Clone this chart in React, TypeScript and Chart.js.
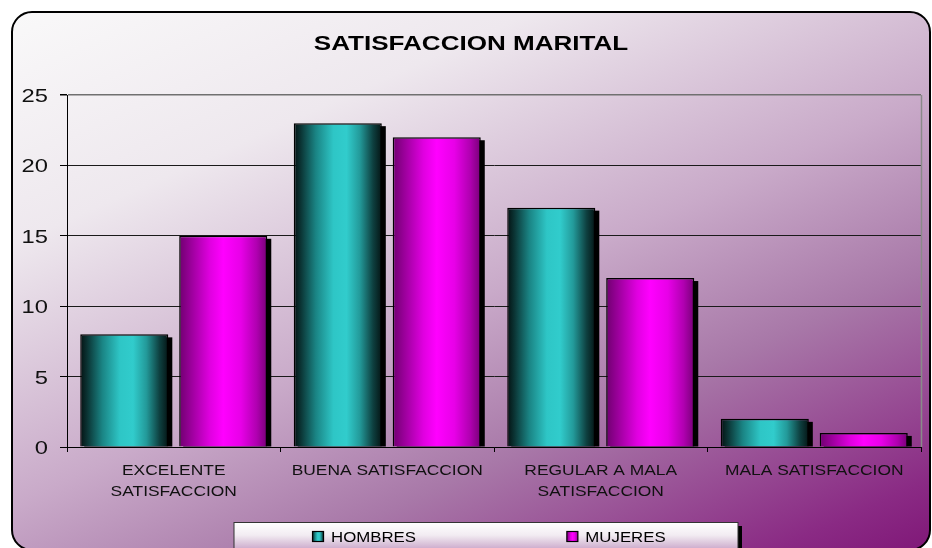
import React, { useEffect, useRef } from "react";
import { Chart, registerables } from "chart.js";

Chart.register(...registerables);

const TITLE = "SATISFACCION MARITAL";
const CATEGORIES: string[][] = [
  ["EXCELENTE", "SATISFACCION"],
  ["BUENA SATISFACCION"],
  ["REGULAR A MALA", "SATISFACCION"],
  ["MALA SATISFACCION"],
];
const SERIES_NAMES = ["HOMBRES", "MUJERES"];
const HOMBRES = [8, 23, 17, 2];
const MUJERES = [15, 22, 12, 1];
const Y_MIN = 0;
const Y_MAX = 25;
const Y_STEP = 5;

const FONT = '"Liberation Sans", Arial, sans-serif';

type Stops = [number, string][];
const CYAN_STOPS: Stops = [
  [0, "#041212"],
  [0.08, "#0b3434"],
  [0.25, "#1a8484"],
  [0.45, "#2ec6c6"],
  [0.6, "#31cccc"],
  [0.75, "#239a9a"],
  [0.9, "#0e4040"],
  [1, "#051515"],
];
const MAGENTA_STOPS: Stops = [
  [0, "#700070"],
  [0.15, "#a000a0"],
  [0.35, "#e000e0"],
  [0.5, "#ff00ff"],
  [0.7, "#e800e8"],
  [0.88, "#b000b0"],
  [1, "#780078"],
];
const SERIES_STOPS = [CYAN_STOPS, MAGENTA_STOPS];
const SERIES_BASE = ["#2ec6c6", "#ff00ff"];

const BG_STOPS: Stops = [
  [0, "#fafafa"],
  [0.26, "#eee8ee"],
  [0.53, "#c9aac9"],
  [0.71, "#a878a8"],
  [0.93, "#8a2a84"],
  [1, "#801878"],
];

function addStops(g: CanvasGradient, stops: Stops) {
  stops.forEach(([o, c]) => g.addColorStop(o, c));
}

function drawScaled(
  ctx: CanvasRenderingContext2D,
  text: string,
  x: number,
  y: number,
  font: string,
  sx: number,
  align: CanvasTextAlign,
  color = "#111"
) {
  ctx.save();
  ctx.translate(x, y);
  ctx.scale(sx, 1);
  ctx.font = font;
  ctx.textAlign = align;
  ctx.textBaseline = "alphabetic";
  ctx.fillStyle = color;
  ctx.fillText(text, 0, 0);
  ctx.restore();
}

function roundRectPath(ctx: CanvasRenderingContext2D, x: number, y: number, w: number, h: number, r: number) {
  ctx.beginPath();
  ctx.moveTo(x + r, y);
  ctx.lineTo(x + w - r, y);
  ctx.arcTo(x + w, y, x + w, y + r, r);
  ctx.lineTo(x + w, y + h - r);
  ctx.arcTo(x + w, y + h, x + w - r, y + h, r);
  ctx.lineTo(x + r, y + h);
  ctx.arcTo(x, y + h, x, y + h - r, r);
  ctx.lineTo(x, y + r);
  ctx.arcTo(x, y, x + r, y, r);
  ctx.closePath();
}

const decorPlugin = {
  id: "decor",
  beforeDraw(chart: any) {
    const { ctx, width, height } = chart;
    ctx.save();
    ctx.fillStyle = "#ffffff";
    ctx.fillRect(0, 0, width, height);
    const g = ctx.createLinearGradient(0, 0, 358, 803);
    addStops(g, BG_STOPS);
    roundRectPath(ctx, 12, 12, 918, 538, 20);
    ctx.fillStyle = g;
    ctx.fill();
    ctx.lineWidth = 2;
    ctx.strokeStyle = "#000";
    ctx.stroke();
    drawScaled(ctx, TITLE, 471, 50, `bold 21px ${FONT}`, 1.24, "center", "#000");
    ctx.restore();
  },
  beforeDatasetsDraw(chart: any) {
    const { ctx, chartArea } = chart;
    ctx.save();
    // right border of plot
    ctx.strokeStyle = "#8a8a8a";
    ctx.lineWidth = 1.5;
    ctx.beginPath();
    ctx.moveTo(chartArea.right + 0.5, chartArea.top);
    ctx.lineTo(chartArea.right + 0.5, chartArea.bottom);
    ctx.stroke();
    chart.data.datasets.forEach((_ds: any, di: number) => {
      const meta = chart.getDatasetMeta(di);
      meta.data.forEach((el: any) => {
        const { x, y, base, width } = el.getProps(["x", "y", "base", "width"], true);
        const left = x - width / 2;
        ctx.fillStyle = "#000";
        ctx.fillRect(left + 4, y + 3, width, Math.max(0, base - y - 3));
        const gr = ctx.createLinearGradient(left, 0, left + width, 0);
        addStops(gr, SERIES_STOPS[di]);
        el.options = { ...el.options, backgroundColor: gr };
      });
    });
    ctx.restore();
  },
  afterDraw(chart: any) {
    const { ctx, chartArea } = chart;
    ctx.save();
    const ys = chart.scales.y;
    ys.ticks.forEach((t: any) => {
      const py = ys.getPixelForValue(t.value);
      drawScaled(ctx, String(t.value), 48, py + 7, `19px ${FONT}`, 1.25, "right", "#111");
    });
    const xs = chart.scales.x;
    CATEGORIES.forEach((lines, i) => {
      const px = xs.getPixelForValue(i);
      lines.forEach((ln, li) => {
        drawScaled(ctx, ln, px, chartArea.bottom + 27.5 + li * 21, `15px ${FONT}`, 1.16, "center", "#111");
      });
    });
    // legend
    const bx = 234, by = 522.5, bw = 504, bh = 40;
    ctx.fillStyle = "#000";
    ctx.fillRect(bx + 4, by + 3.5, bw, bh);
    const lg = ctx.createLinearGradient(0, by, 0, by + 28);
    lg.addColorStop(0, "#ffffff");
    lg.addColorStop(0.45, "#f2ecf2");
    lg.addColorStop(1, "#c8a4c8");
    ctx.fillStyle = lg;
    ctx.fillRect(bx, by, bw, bh);
    ctx.strokeStyle = "#333";
    ctx.lineWidth = 1;
    ctx.strokeRect(bx, by, bw, bh);
    const half = bw / SERIES_NAMES.length;
    const lfont = `15px ${FONT}`;
    const lsx = 1.12;
    ctx.font = lfont;
    SERIES_NAMES.forEach((name, i) => {
      const tw = ctx.measureText(name).width * lsx;
      const itemW = 12 + 7 + tw;
      const start = bx + i * half + (half - itemW) / 2 + 4;
      const mg = ctx.createLinearGradient(start, 0, start + 12, 0);
      addStops(mg, SERIES_STOPS[i]);
      ctx.fillStyle = mg;
      ctx.fillRect(start + 0.5, 531.5, 11, 10);
      ctx.strokeStyle = "#000";
      ctx.lineWidth = 1.2;
      ctx.strokeRect(start + 0.5, 531.5, 11, 10);
      drawScaled(ctx, name, start + 19, 541.5, lfont, lsx, "left", "#000");
    });
    ctx.restore();
  },
};

export default function App() {
  const ref = useRef<HTMLCanvasElement | null>(null);
  useEffect(() => {
    if (!ref.current) return;
    const chart = new Chart(ref.current, {
      type: "bar",
      data: {
        labels: CATEGORIES.map((c) => c.join(" ")),
        datasets: [
          {
            label: SERIES_NAMES[0],
            data: HOMBRES,
            backgroundColor: SERIES_BASE[0],
            borderColor: "#000",
            borderWidth: 1.5,
            categoryPercentage: 0.927,
            barPercentage: 0.89,
          },
          {
            label: SERIES_NAMES[1],
            data: MUJERES,
            backgroundColor: SERIES_BASE[1],
            borderColor: "#000",
            borderWidth: 1.5,
            categoryPercentage: 0.927,
            barPercentage: 0.89,
          },
        ],
      },
      options: {
        responsive: false,
        animation: false,
        devicePixelRatio: 1,
        layout: { padding: { left: 0, top: 95, right: 11, bottom: 0 } },
        plugins: {
          legend: { display: false },
          title: { display: false },
          tooltip: { enabled: false },
        },
        scales: {
          x: {
            grid: {
              offset: true,
              drawOnChartArea: false,
              drawTicks: true,
              tickLength: 5,
              color: "#000",
              tickColor: "#000",
            },
            border: { display: true, color: "#000", width: 1 },
            ticks: { display: false },
            afterFit: (s: any) => {
              s.height = 101;
            },
          },
          y: {
            min: Y_MIN,
            max: Y_MAX,
            ticks: { display: false, stepSize: Y_STEP },
            grid: {
              color: (c: any) => (c.tick && c.tick.value === Y_MAX ? "#707070" : "#1a1a1a"),
              lineWidth: (c: any) => (c.tick && c.tick.value === Y_MAX ? 1.5 : 1),
              tickColor: "#000",
              tickLength: 7,
              drawTicks: true,
            },
            border: { display: true, color: "#000", width: 1 },
            afterFit: (s: any) => {
              s.width = 67;
            },
          },
        },
      },
      plugins: [decorPlugin],
    } as any);
    return () => chart.destroy();
  }, []);
  return (
    <div style={{ position: "absolute", left: 0, top: 0, width: 932, height: 548 }}>
      <canvas ref={ref} width={932} height={548} style={{ width: 932, height: 548, display: "block" }} />
    </div>
  );
}
